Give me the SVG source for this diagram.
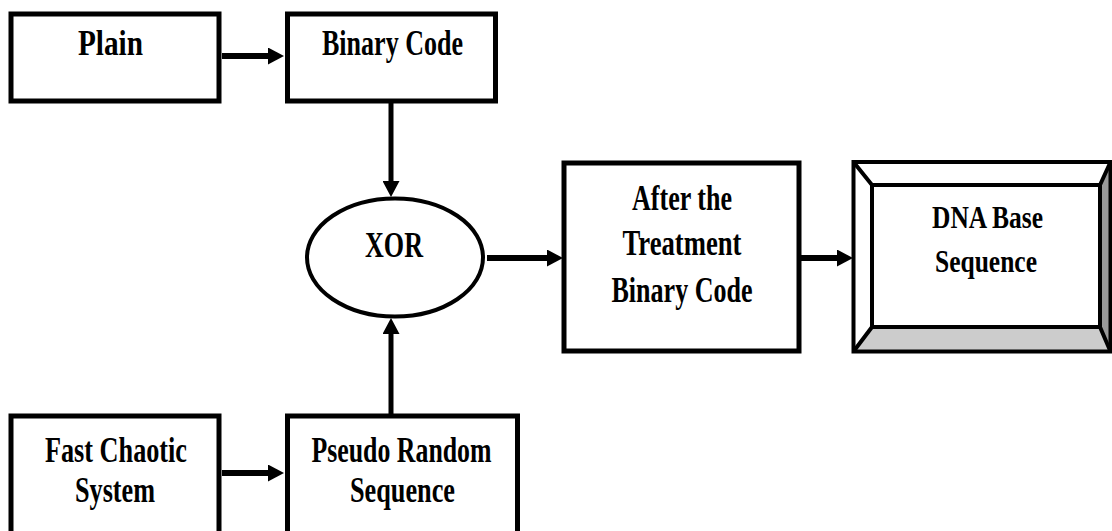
<svg xmlns="http://www.w3.org/2000/svg" width="1112" height="531" viewBox="0 0 1112 531">
<style>
.box{fill:#fff;stroke:#000;stroke-width:5}
.ell{fill:#fff;stroke:#000;stroke-width:4}
.t{font-family:"Liberation Serif","Times New Roman",serif;font-weight:bold;font-size:35px;fill:#000;text-anchor:middle}
.s{font-size:31px}
.b{font-size:36px}
.c{fill:none;stroke:#000}
.h{stroke-width:6}
.v{stroke-width:5}
.bev{stroke:#000;stroke-width:4;stroke-linejoin:miter}
</style>
<defs>
<marker id="ah" markerUnits="userSpaceOnUse" viewBox="0 0 16 17" refX="0" refY="8.5" markerWidth="16" markerHeight="17" orient="auto">
<path d="M0,0 L16,8.5 L0,17 Z" fill="#000"/>
</marker>
</defs>
<rect width="1112" height="531" fill="#fff"/>

<g id="connectors">
<path class="c h" d="M222,56 H268" marker-end="url(#ah)"/>
<path class="c v" d="M391,103 V181" marker-end="url(#ah)"/>
<path class="c h" d="M487,258 H547" marker-end="url(#ah)"/>
<path class="c h" d="M801,258 H837" marker-end="url(#ah)"/>
<path class="c h" d="M222,473 H268" marker-end="url(#ah)"/>
<path class="c v" d="M391,414 V334" marker-end="url(#ah)"/>
</g>

<g id="plain">
<rect class="box" x="11" y="14" width="208" height="87"/>
<text class="t" x="110.5" y="55" textLength="65" lengthAdjust="spacingAndGlyphs">Plain</text>
</g>

<g id="binary-code">
<rect class="box" x="287.5" y="14" width="208" height="87"/>
<text class="t" x="392.5" y="55" textLength="141" lengthAdjust="spacingAndGlyphs">Binary Code</text>
</g>

<g id="xor">
<ellipse class="ell" cx="395" cy="257.5" rx="88" ry="59"/>
<text class="t" x="394" y="257" textLength="58" lengthAdjust="spacingAndGlyphs">XOR</text>
</g>

<g id="after-treatment">
<rect class="box" x="564" y="163" width="235" height="188"/>
<text class="t" x="682" y="210" textLength="100" lengthAdjust="spacingAndGlyphs">After the</text>
<text class="t" x="682" y="255" textLength="119" lengthAdjust="spacingAndGlyphs">Treatment</text>
<text class="t" x="682" y="302" textLength="141" lengthAdjust="spacingAndGlyphs">Binary Code</text>
</g>

<g id="dna-base-sequence">
<rect x="853.5" y="162" width="257" height="189.5" fill="#fff"/>
<polygon points="1110.5,162 1100,185 1100,327 1110.5,351.5" fill="#999"/>
<polygon points="853.5,351.5 872,327 1100,327 1110.5,351.5" fill="#ccc"/>
<rect x="853.5" y="162" width="257" height="189.5" fill="none" class="bev"/>
<rect x="872" y="185" width="228" height="142" fill="#fff" class="bev"/>
<path class="bev" fill="none" d="M853.5,162 L872,185 M1110.5,162 L1100,185 M853.5,351.5 L872,327 M1110.5,351.5 L1100,327"/>
<text class="t s" x="987.5" y="228" textLength="111" lengthAdjust="spacingAndGlyphs">DNA Base</text>
<text class="t s" x="986" y="272" textLength="102" lengthAdjust="spacingAndGlyphs">Sequence</text>
</g>

<g id="fast-chaotic-system">
<rect class="box" x="11" y="416" width="208" height="130"/>
<text class="t b" x="116" y="462" textLength="142" lengthAdjust="spacingAndGlyphs">Fast Chaotic</text>
<text class="t b" x="115" y="502" textLength="80" lengthAdjust="spacingAndGlyphs">System</text>
</g>

<g id="pseudo-random-sequence">
<rect class="box" x="287.5" y="416" width="230" height="130"/>
<text class="t b" x="401.5" y="462" textLength="180" lengthAdjust="spacingAndGlyphs">Pseudo Random</text>
<text class="t b" x="402.5" y="502" textLength="105" lengthAdjust="spacingAndGlyphs">Sequence</text>
</g>
</svg>
